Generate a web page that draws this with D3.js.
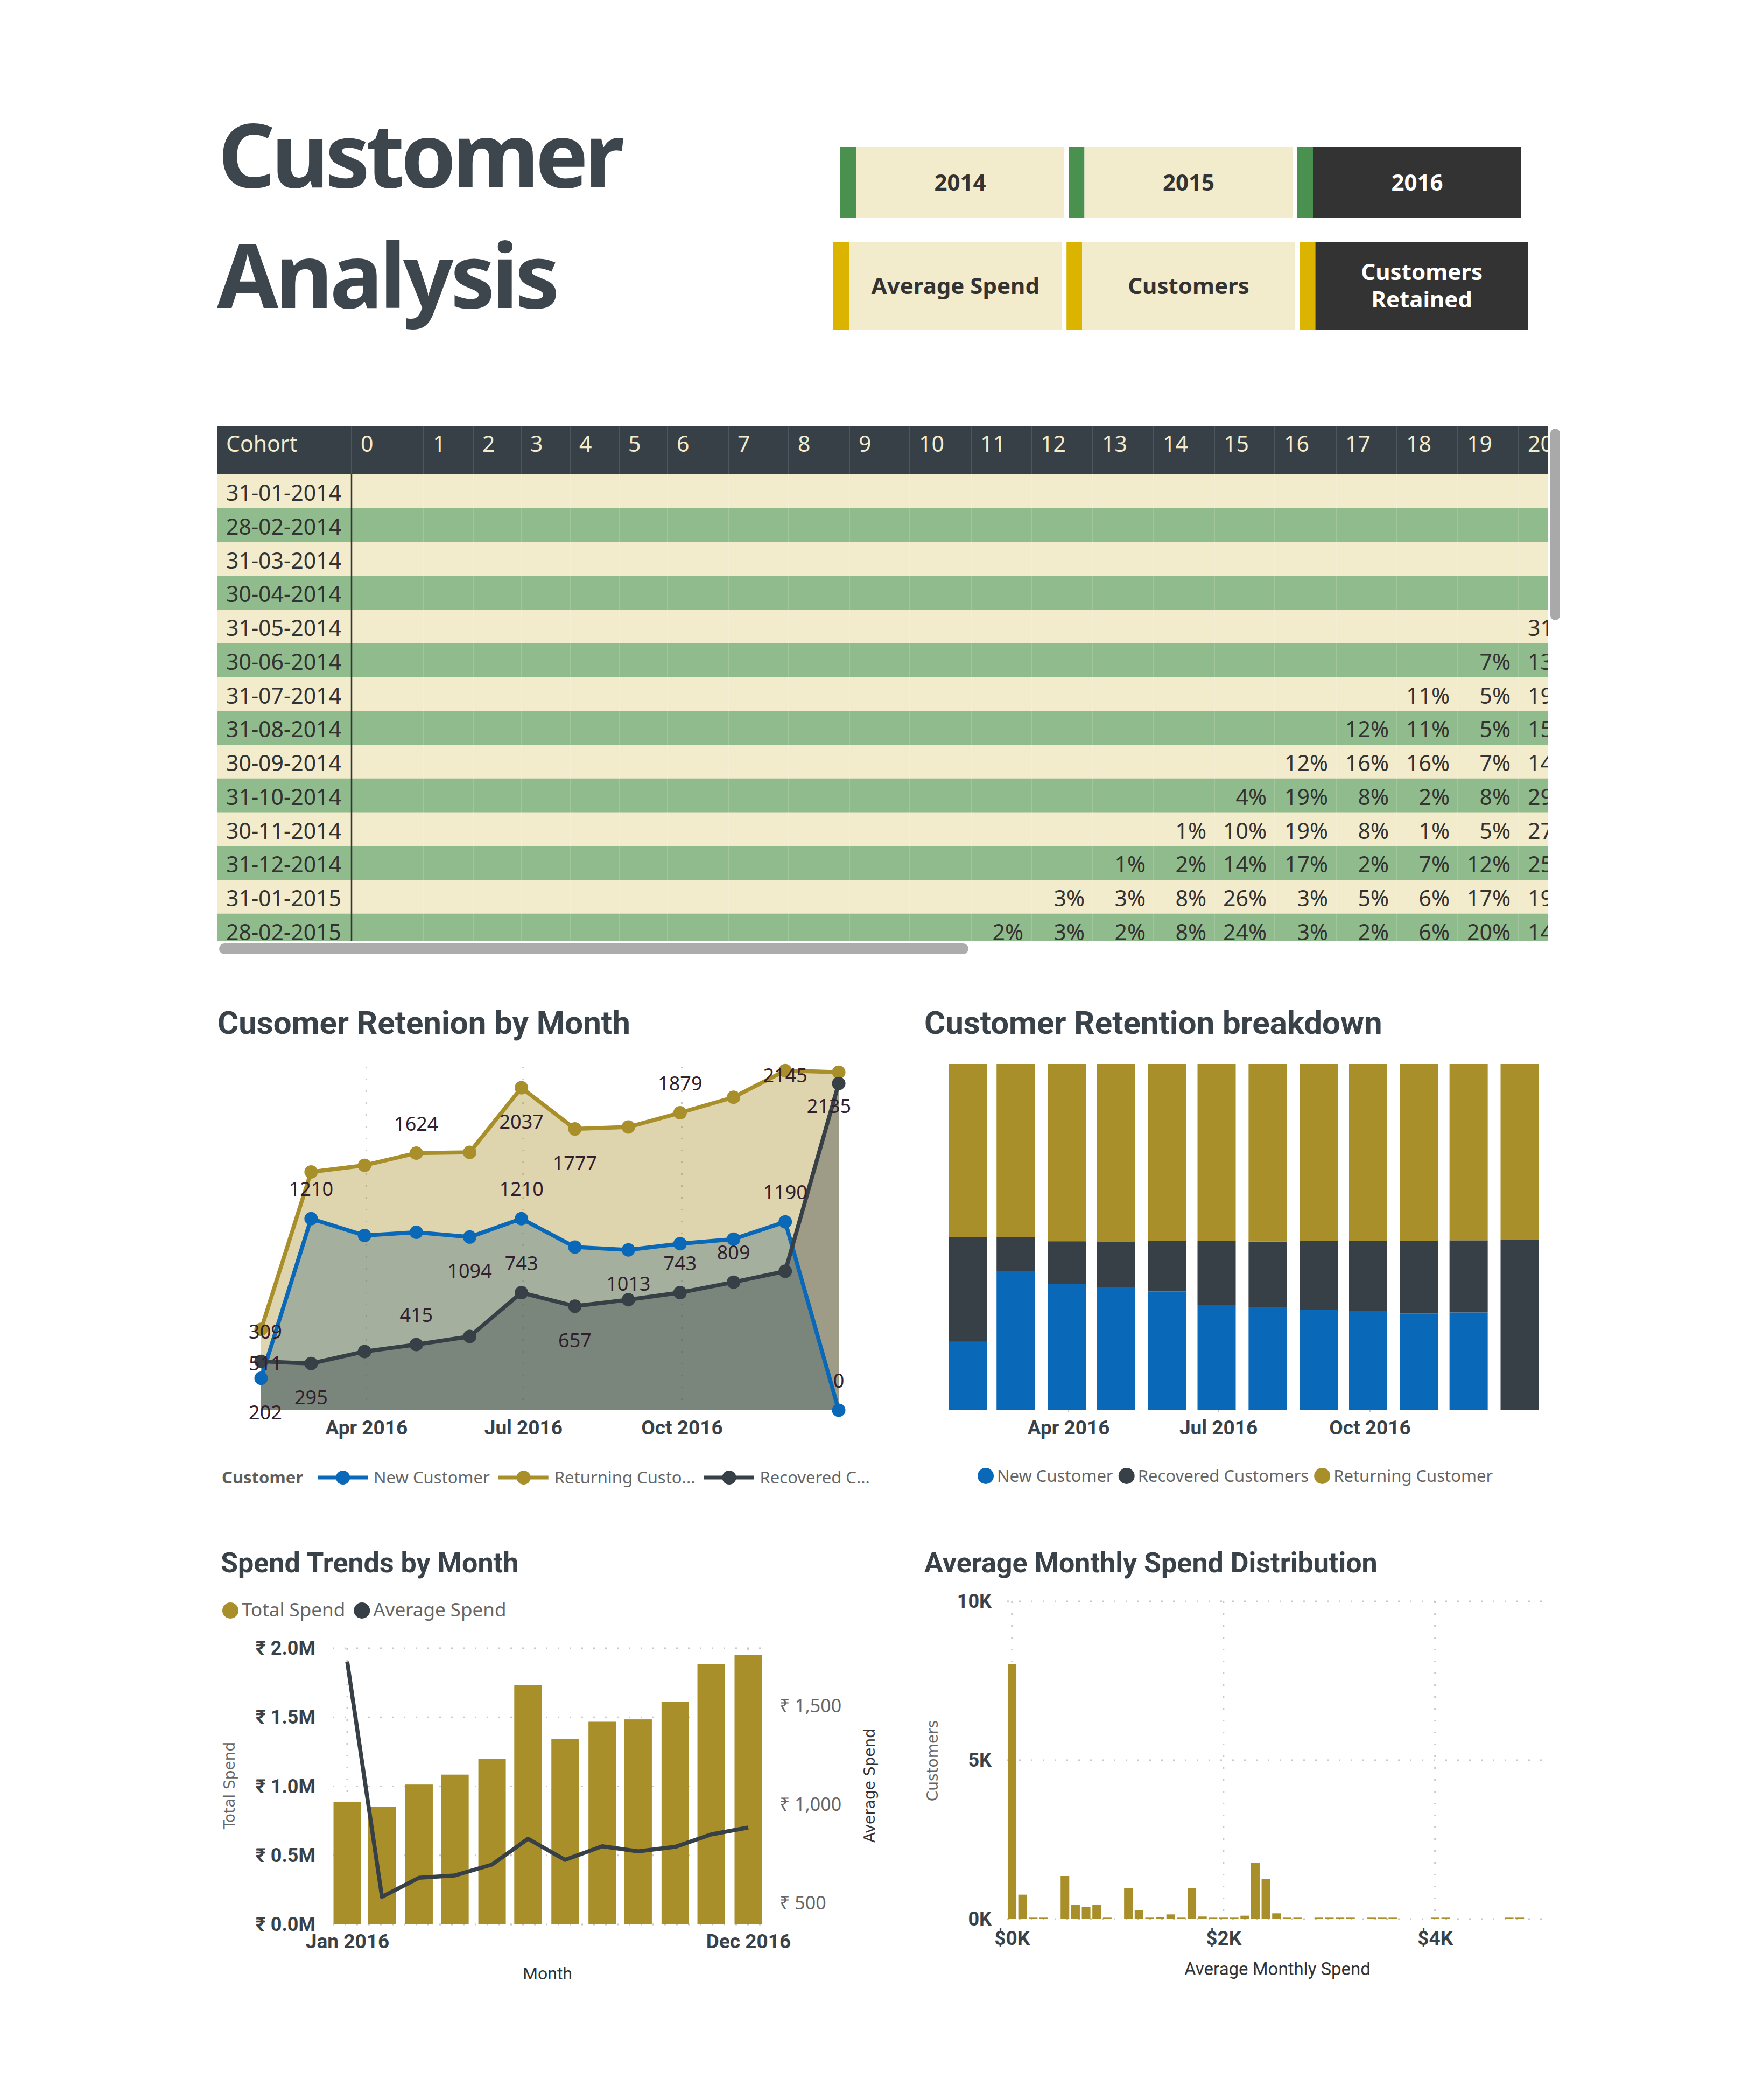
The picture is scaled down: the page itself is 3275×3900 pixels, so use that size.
<!DOCTYPE html>
<html>
<head>
<meta charset="utf-8">
<script src="https://cdnjs.cloudflare.com/ajax/libs/d3/7.8.5/d3.min.js"></script>
<style>
  body { margin: 0; background: #fff; }
  svg { display: block; }
</style>
</head>
<body>
<script>
// ---- data ----
var years = ['2014', '2015', '2016'];
var measures = ['Average Spend', 'Customers', 'Customers Retained'];

var cohorts = ['31-01-2014', '28-02-2014', '31-03-2014', '30-04-2014', '31-05-2014', '30-06-2014',
  '31-07-2014', '31-08-2014', '30-09-2014', '31-10-2014', '30-11-2014', '31-12-2014',
  '31-01-2015', '28-02-2015'];
var periods = ['0', '1', '2', '3', '4', '5', '6', '7', '8', '9', '10', '11', '12', '13', '14', '15', '16', '17', '18', '19', '20'];
// retention % per cohort, listed from the first period that has a value
var retention = [
  [21, []],
  [21, []],
  [21, []],
  [21, []],
  [20, [31]],
  [19, [7, 13]],
  [18, [11, 5, 19]],
  [17, [12, 11, 5, 15]],
  [16, [12, 16, 16, 7, 14]],
  [15, [4, 19, 8, 2, 8, 29]],
  [14, [1, 10, 19, 8, 1, 5, 27]],
  [13, [1, 2, 14, 17, 2, 7, 12, 25]],
  [12, [3, 3, 8, 26, 3, 5, 6, 17, 19]],
  [11, [2, 3, 2, 8, 24, 3, 2, 6, 20, 14]]
];

var months = ['2016-01-31', '2016-02-29', '2016-03-31', '2016-04-30', '2016-05-31', '2016-06-30',
  '2016-07-31', '2016-08-31', '2016-09-30', '2016-10-31', '2016-11-30', '2016-12-31'];
var newCustomers       = [202, 1210, 1104, 1124, 1094, 1210, 1031, 1013, 1052, 1081, 1190, 0];
var returningCustomers = [511, 1505, 1547, 1624, 1629, 2037, 1777, 1789, 1879, 1977, 2145, 2135];
var recoveredCustomers = [309, 295, 371, 415, 466, 743, 657, 698, 743, 809, 878, 2064];

var totalSpend   = [889000, 851000, 1013000, 1085000, 1200000, 1734000, 1345000, 1468000, 1485000, 1613000, 1883000, 1953000];
var averageSpend = [1727, 533, 630, 642, 697, 828, 721, 790, 764, 787, 850, 885];

var spendBinSize = 100;
var spendBinCounts = [8020, 768, 45, 45, 0, 1356, 441, 378, 452, 45,
  0, 971, 283, 45, 63, 147, 45, 971, 80, 45,
  45, 45, 107, 1780, 1259, 181, 45, 45, 0, 45,
  45, 45, 45, 0, 45, 45, 45, 0, 0, 0,
  45, 45, 0, 0, 0, 0, 0, 45, 45];

// ---- look ----
var C = {
  gold: '#a88f29', blue: '#0a68b8', dark: '#373f47', ink: '#3a4249',
  beige: '#f2ebcc', green: '#90bb8c', btnDark: '#333333',
  stripeGreen: '#4a9150', stripeYellow: '#dbb400',
  label: '#33202e', legend: '#666666', grid: '#c8c8c8'
};
var F = {
  ui: "'Noto Sans', 'DejaVu Sans', sans-serif",
  din: "Roboto, 'Noto Sans', 'DejaVu Sans', sans-serif",
  dv: "'DejaVu Sans', sans-serif"
};

var W = 3275, H = 3900;
var svg = d3.select('body').append('svg')
  .attr('width', W).attr('height', H)
  .attr('viewBox', '0 0 ' + W + ' ' + H);
svg.append('rect').attr('width', W).attr('height', H).attr('fill', '#fff');

var parse = d3.timeParse('%Y-%m-%d');
var dates = months.map(parse);

function txt(g, x, y, s, size, opts) {
  opts = opts || {};
  return g.append('text')
    .attr('x', x).attr('y', y)
    .attr('font-family', opts.family || F.ui)
    .attr('font-size', size)
    .attr('font-weight', opts.weight || 400)
    .attr('fill', opts.fill || C.ink)
    .attr('text-anchor', opts.anchor || 'start')
    .text(s);
}

function dottedLine(g, x1, y1, x2, y2) {
  g.append('line')
    .attr('x1', x1).attr('y1', y1).attr('x2', x2).attr('y2', y2)
    .attr('stroke', C.grid).attr('stroke-width', 3)
    .attr('stroke-dasharray', '3,19');
}

// ---- header: title and slicers ----
var head = svg.append('g');
txt(head, 405, 348, 'Customer', 165, {weight: 700, fill: '#3d464d'}).attr('letter-spacing', -7);
txt(head, 403, 572, 'Analysis', 165, {weight: 700, fill: '#3d464d'}).attr('letter-spacing', -6);

function slicer(items, x0, x1, y, h, stripeColor, selected) {
  var band = d3.scaleBand().domain(items).range([x0, x1]).paddingInner(0.02);
  var stripe = 29;
  var g = head.append('g');
  items.forEach(function(it) {
    var bx = band(it), bw = band.bandwidth();
    var sel = it === selected;
    g.append('rect').attr('x', bx).attr('y', y).attr('width', stripe).attr('height', h).attr('fill', stripeColor);
    g.append('rect').attr('x', bx + stripe).attr('y', y).attr('width', bw - stripe).attr('height', h)
      .attr('fill', sel ? C.btnDark : C.beige);
    var lines = it === 'Customers Retained' ? ['Customers', 'Retained'] : [it];
    var cx = bx + stripe + (bw - stripe) / 2;
    var cy = y + h / 2;
    lines.forEach(function(l, i) {
      var by = cy + 15 + (i - (lines.length - 1) / 2) * 51;
      txt(g, cx, by, l, 42, {weight: 700, anchor: 'middle', fill: sel ? '#ffffff' : '#333333'});
    });
  });
}
slicer(years, 1561, 2826, 273, 132, C.stripeGreen, '2016');
slicer(measures, 1548, 2839, 449, 163, C.stripeYellow, 'Customers Retained');

// ---- cohort table ----
var T = {x: 403, right: 2875, top: 791, hdrH: 90, rowH: 62.75, bottom: 1748, cohortW: 250};
var colW = [134, 92, 89, 91, 91, 90, 113, 112, 113, 112, 114, 112, 114, 113, 113, 112, 114, 113, 113, 113, 113];
var colX = [T.x + T.cohortW];
colW.forEach(function(w, i) { colX.push(colX[i] + w); });

svg.append('clipPath').attr('id', 'tclip').append('rect')
  .attr('x', T.x).attr('y', T.top).attr('width', T.right - T.x).attr('height', T.bottom - T.top);
var tg = svg.append('g').attr('clip-path', 'url(#tclip)');

tg.append('rect').attr('x', T.x).attr('y', T.top).attr('width', T.right - T.x).attr('height', T.hdrH).attr('fill', C.dark);
var bodyTop = T.top + T.hdrH;
cohorts.forEach(function(c, r) {
  var ry = bodyTop + r * T.rowH;
  tg.append('rect').attr('x', T.x).attr('y', ry).attr('width', T.right - T.x).attr('height', T.rowH + 0.5)
    .attr('fill', r % 2 === 0 ? C.beige : C.green);
});
// column separators
periods.forEach(function(p, i) {
  tg.append('line').attr('x1', colX[i]).attr('x2', colX[i]).attr('y1', T.top).attr('y2', bodyTop)
    .attr('stroke', '#4d565e').attr('stroke-width', 2);
  if (i > 0) {
    tg.append('line').attr('x1', colX[i]).attr('x2', colX[i]).attr('y1', bodyTop).attr('y2', T.bottom)
      .attr('stroke', '#ffffff').attr('stroke-opacity', 0.16).attr('stroke-width', 2);
  }
});
tg.append('line').attr('x1', colX[0]).attr('x2', colX[0]).attr('y1', bodyTop).attr('y2', T.bottom)
  .attr('stroke', '#333333').attr('stroke-width', 2.5);

txt(tg, T.x + 17, T.top + 48, 'Cohort', 41, {fill: C.beige});
periods.forEach(function(p, i) {
  txt(tg, colX[i] + 17, T.top + 48, p, 41, {fill: C.beige});
});
cohorts.forEach(function(c, r) {
  var ry = bodyTop + r * T.rowH;
  txt(tg, T.x + 17, ry + 49, c, 41, {fill: '#333333'});
  var start = retention[r][0];
  retention[r][1].forEach(function(v, k) {
    var ci = start + k;
    txt(tg, colX[ci] + colW[ci] - 15, ry + 49, v + '%', 41, {fill: '#333333', anchor: 'end'});
  });
});
// scrollbars
svg.append('rect').attr('x', 2880).attr('y', 796).attr('width', 18).attr('height', 356).attr('rx', 9).attr('fill', '#a9a9a9');
svg.append('rect').attr('x', 407).attr('y', 1752).attr('width', 1392).attr('height', 20).attr('rx', 10).attr('fill', '#acacac');

// ---- Cusomer Retenion by Month (area / line) ----
var series = [
  {key: 'new', name: 'New Customer', vals: newCustomers, color: C.blue},
  {key: 'returning', name: 'Returning Custo...', vals: returningCustomers, color: C.gold},
  {key: 'recovered', name: 'Recovered C...', vals: recoveredCustomers, color: C.dark}
];
var byKey = {};
series.forEach(function(s) { byKey[s.key] = s; });

// which data labels Power BI kept, and where it put them
var lineLabels = [
  ['recovered', 0, 't', 8], ['returning', 0, 'b', 8], ['new', 0, 'b', 8],
  ['new', 1, 't', 0], ['recovered', 1, 'b', 0],
  ['returning', 3, 't', 0], ['recovered', 3, 't', 0],
  ['new', 4, 'b', 0],
  ['returning', 5, 'b', 0], ['new', 5, 't', 0], ['recovered', 5, 't', 0],
  ['returning', 6, 'b', 0], ['recovered', 6, 'b', 0],
  ['new', 7, 'b', 0],
  ['returning', 8, 't', 0], ['recovered', 8, 't', 0],
  ['recovered', 9, 't', 0],
  ['new', 10, 't', 0], ['returning', 10, 'm', 0],
  ['returning', 11, 'b', -18], ['new', 11, 't', 0]
];

var lc = svg.append('g');
txt(lc, 404, 1920, 'Cusomer Retenion by Month', 60, {family: F.din, weight: 700});

var xL = d3.scaleTime().domain([dates[0], dates[11]]).range([485, 1558]);
var yL = d3.scaleLinear().domain([0, 2170]).range([2619, 1981]);
var qTicks = xL.ticks(d3.timeMonth.every(3));

qTicks.forEach(function(t) { dottedLine(lc, xL(t), 1981, xL(t), 2619); });

var area = d3.area().x(function(d, i) { return xL(dates[i]); }).y0(yL(0)).y1(function(d) { return yL(d); });
var line = d3.line().x(function(d, i) { return xL(dates[i]); }).y(function(d) { return yL(d); });

// Power BI draws new first, then returning, then recovered on top
['new', 'returning', 'recovered'].forEach(function(k) {
  lc.append('path').datum(byKey[k].vals).attr('d', area)
    .attr('fill', byKey[k].color).attr('fill-opacity', 0.38);
});
series.forEach(function(s) {
  lc.append('path').datum(s.vals).attr('d', line)
    .attr('fill', 'none').attr('stroke', s.color).attr('stroke-width', 7.5).attr('stroke-linejoin', 'round');
  lc.selectAll(null).data(s.vals).enter().append('circle')
    .attr('cx', function(d, i) { return xL(dates[i]); })
    .attr('cy', function(d) { return yL(d); })
    .attr('r', 12.5).attr('fill', s.color);
});
lineLabels.forEach(function(l) {
  var s = byKey[l[0]], v = s.vals[l[1]];
  var px = xL(dates[l[1]]) + l[3], py = yL(v);
  var by = l[2] === 't' ? py - 42 : (l[2] === 'b' ? py + 76 : py + 22);
  txt(lc, px, by, String(v), 36, {anchor: 'middle', fill: C.label});
});

var axL = lc.append('g').attr('transform', 'translate(0,2619)')
  .call(d3.axisBottom(xL).tickValues(qTicks).tickFormat(d3.timeFormat('%b %Y')).tickSize(0).tickPadding(19));
axL.select('.domain').remove();
axL.selectAll('text').attr('font-family', F.din).attr('font-size', 37).attr('font-weight', 700).attr('fill', C.ink);

// legend
function legendRow(g, x, y, items, opts) {
  if (opts.title) {
    var tt = txt(g, x, y + 11, opts.title, 31, {weight: 700, fill: '#605e5c'});
    x += tt.node().getComputedTextLength() + 27;
  }
  items.forEach(function(it) {
    if (opts.lineMarker) {
      g.append('line').attr('x1', x).attr('x2', x + 93).attr('y1', y).attr('y2', y)
        .attr('stroke', it.color).attr('stroke-width', 7);
      g.append('circle').attr('cx', x + 47).attr('cy', y).attr('r', 13).attr('fill', it.color);
      x += 104;
    } else {
      g.append('circle').attr('cx', x + 15).attr('cy', y).attr('r', 15).attr('fill', it.color);
      x += 36;
    }
    var t = txt(g, x, y + 11, it.name, opts.size, {fill: C.legend});
    x += t.node().getComputedTextLength() + (opts.gap || 16);
  });
}
legendRow(lc, 412, 2744, series, {title: 'Customer', lineMarker: true, size: 31});

// ---- Customer Retention breakdown (100% stacked columns) ----
var bc = svg.append('g');
txt(bc, 1717, 1920, 'Customer Retention breakdown', 60, {family: F.din, weight: 700});

var stackRows = dates.map(function(d, i) {
  return {date: d, new: newCustomers[i], recovered: recoveredCustomers[i], returning: returningCustomers[i]};
});
var stack = d3.stack().keys(['new', 'recovered', 'returning']).offset(d3.stackOffsetExpand);
var layers = stack(stackRows);

var xB = d3.scaleTime().domain([dates[0], dates[11]]).range([1798, 2823]);
var yB = d3.scaleLinear().domain([0, 1]).range([2619, 1976]);
var barW = 71;
var stackColor = {new: C.blue, recovered: C.dark, returning: C.gold};

layers.forEach(function(layer) {
  bc.selectAll(null).data(layer).enter().append('rect')
    .attr('x', function(d) { return xB(d.data.date) - barW / 2; })
    .attr('width', barW)
    .attr('y', function(d) { return yB(d[1]); })
    .attr('height', function(d) { return yB(d[0]) - yB(d[1]); })
    .attr('fill', stackColor[layer.key]);
});
var axB = bc.append('g').attr('transform', 'translate(0,2619)')
  .call(d3.axisBottom(xB).tickValues(xB.ticks(d3.timeMonth.every(3))).tickFormat(d3.timeFormat('%b %Y')).tickSize(4).tickPadding(15));
axB.select('.domain').remove();
axB.selectAll('line').attr('stroke', '#c8c8c8').attr('stroke-width', 2);
axB.selectAll('text').attr('font-family', F.din).attr('font-size', 37).attr('font-weight', 700).attr('fill', C.ink);

legendRow(bc, 1816, 2741, [
  {name: 'New Customer', color: C.blue},
  {name: 'Recovered Customers', color: C.dark},
  {name: 'Returning Customer', color: C.gold}
], {size: 31, gap: 10});

// ---- Spend Trends by Month (columns + line, two axes) ----
var sc = svg.append('g');
txt(sc, 410, 2920, 'Spend Trends by Month', 52, {family: F.din, weight: 700});
legendRow(sc, 413, 2991, [
  {name: 'Total Spend', color: C.gold},
  {name: 'Average Spend', color: C.dark}
], {size: 35, gap: 16});

var xS = d3.scaleTime().domain([dates[0], dates[11]]).range([645, 1390]);
var yS = d3.scaleLinear().domain([0, 2000000]).range([3574, 3061]);
var yA = d3.scaleLinear().domain([393, 1795]).range([3574, 3061]);
var sBarW = 51;

yS.ticks(4).forEach(function(t) { dottedLine(sc, 618, yS(t), 1416, yS(t)); });
[dates[0], dates[11]].forEach(function(d) { dottedLine(sc, xS(d), 3061, xS(d), 3574); });

sc.selectAll(null).data(totalSpend).enter().append('rect')
  .attr('x', function(d, i) { return xS(dates[i]) - sBarW / 2; })
  .attr('width', sBarW)
  .attr('y', function(d) { return yS(d); })
  .attr('height', function(d) { return yS(0) - yS(d); })
  .attr('fill', C.gold);

sc.append('path').datum(averageSpend)
  .attr('d', d3.line().x(function(d, i) { return xS(dates[i]); }).y(function(d) { return yA(d); }))
  .attr('fill', 'none').attr('stroke', C.dark).attr('stroke-width', 7.5).attr('stroke-linejoin', 'round');

var axSl = sc.append('g').attr('transform', 'translate(586,0)')
  .call(d3.axisLeft(yS).ticks(4).tickFormat(function(v) { return '\u20b9 ' + (v / 1e6).toFixed(1) + 'M'; }).tickSize(0).tickPadding(0));
axSl.select('.domain').remove();
axSl.selectAll('text').attr('font-family', F.din).attr('font-size', 36).attr('font-weight', 700).attr('fill', C.ink);

var axSr = sc.append('g').attr('transform', 'translate(1448,0)')
  .call(d3.axisRight(yA).tickValues([500, 1000, 1500]).tickFormat(function(v) { return '\u20b9 ' + d3.format(',')(v); }).tickSize(0).tickPadding(0));
axSr.select('.domain').remove();
axSr.selectAll('text').attr('font-family', F.ui).attr('font-size', 34).attr('fill', C.legend);

var axSx = sc.append('g').attr('transform', 'translate(0,3574)')
  .call(d3.axisBottom(xS).tickValues([dates[0], dates[11]]).tickFormat(d3.timeFormat('%b %Y')).tickSize(0).tickPadding(18));
axSx.select('.domain').remove();
axSx.selectAll('text').attr('font-family', F.din).attr('font-size', 37).attr('font-weight', 700).attr('fill', C.ink);

txt(sc, 1017, 3676, 'Month', 32, {family: F.din, anchor: 'middle', fill: '#333333'});
txt(sc, 0, 0, 'Total Spend', 28, {family: F.dv, anchor: 'middle', fill: C.legend})
  .attr('transform', 'translate(436,3316) rotate(-90)');
txt(sc, 0, 0, 'Average Spend', 28, {family: F.dv, anchor: 'middle', fill: '#333333'})
  .attr('transform', 'translate(1625,3316) rotate(-90)');

// ---- Average Monthly Spend Distribution (histogram) ----
var hc = svg.append('g');
txt(hc, 1717, 2920, 'Average Monthly Spend Distribution', 52, {family: F.din, weight: 700});

var xH = d3.scaleLinear().domain([-50, 5070]).range([1870, 2876]);
var yH = d3.scaleLinear().domain([0, 10000]).range([3564, 2974]);
var binPx = xH(spendBinSize) - xH(0);

[0, 5000, 10000].forEach(function(t) { dottedLine(hc, 1871, yH(t), 2877, yH(t)); });
[0, 2000, 4000].forEach(function(t) { dottedLine(hc, xH(t), 2974, xH(t), 3564); });

var bins = spendBinCounts.map(function(n, i) { return {lo: i * spendBinSize, n: n}; })
  .filter(function(b) { return b.n > 0; });
hc.selectAll(null).data(bins).enter().append('rect')
  .attr('x', function(d) { return xH(d.lo - spendBinSize / 2) + 2; })
  .attr('width', binPx - 3.6)
  .attr('y', function(d) { return yH(d.n); })
  .attr('height', function(d) { return yH(0) - yH(d.n); })
  .attr('fill', C.gold);

var axHy = hc.append('g').attr('transform', 'translate(1842,0)')
  .call(d3.axisLeft(yH).tickValues([0, 5000, 10000]).tickFormat(function(v) { return (v / 1000) + 'K'; }).tickSize(0).tickPadding(0));
axHy.select('.domain').remove();
axHy.selectAll('text').attr('font-family', F.din).attr('font-size', 36).attr('font-weight', 700).attr('fill', C.ink);

var axHx = hc.append('g').attr('transform', 'translate(0,3564)')
  .call(d3.axisBottom(xH).tickValues([0, 2000, 4000]).tickFormat(function(v) { return '$' + (v / 1000) + 'K'; }).tickSize(0).tickPadding(22));
axHx.select('.domain').remove();
axHx.selectAll('text').attr('font-family', F.din).attr('font-size', 37).attr('font-weight', 700).attr('fill', C.ink);

txt(hc, 2373, 3668, 'Average Monthly Spend', 33, {family: F.din, anchor: 'middle', fill: '#333333'});
txt(hc, 0, 0, 'Customers', 28, {family: F.dv, anchor: 'middle', fill: C.legend})
  .attr('transform', 'translate(1742,3270) rotate(-90)');
</script>
</body>
</html>
